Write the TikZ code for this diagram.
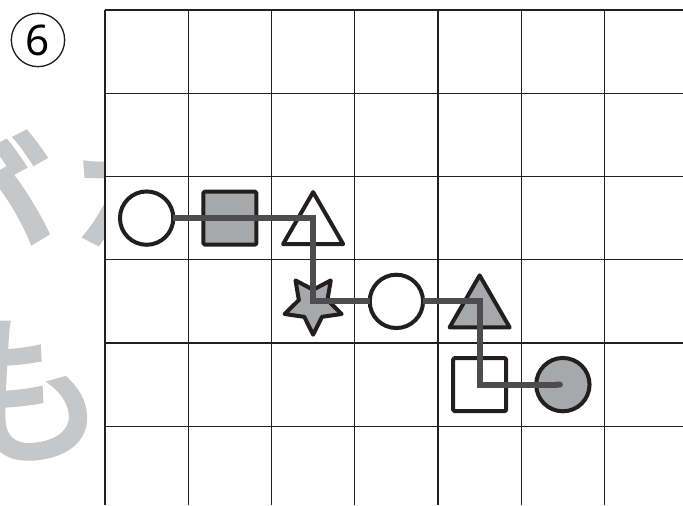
\documentclass[tikz,border=0pt]{standalone}
\usepackage{fontspec}
\setsansfont{Noto Sans}
\newfontfamily\jpfont[FakeBold=3]{Noto Sans CJK JP}
\usepackage{tikz}
\usetikzlibrary{shapes.geometric, arrows.meta, positioning, calc}
\definecolor{ink}{HTML}{231F20}
\definecolor{shade}{HTML}{A7A8AA}
\definecolor{route}{HTML}{4D4D4F}
\definecolor{wmgray}{HTML}{C6C7C9}

\begin{document}
\begin{tikzpicture}[
    x=0.03cm, y=-0.03cm,
    gridline/.style={draw=ink, line width=0.4mm},
    shapebase/.style={draw=ink, line width=1.2mm, inner sep=0pt, outer sep=0pt, line join=round},
    ring/.style={shapebase, circle, fill=white, minimum size=1.6cm},
    dot/.style={ring, fill=shade},
    box/.style={shapebase, rectangle, fill=white, minimum size=1.59cm, rounded corners=0.4mm},
    tri/.style={shapebase, regular polygon, regular polygon sides=3, fill=white, minimum size=2.08cm, yshift=-0.26cm},
    starmark/.style={shapebase, star, star points=5, star point ratio=0.5, fill=shade, minimum size=0.9cm, yshift=-0.1cm},
    routeline/.style={draw=route, line width=1.8mm},
    wm/.style={text=wmgray, font=\jpfont\fontsize{140}{140}\selectfont, inner sep=0pt},
    badge/.style={circle, draw=ink, line width=0.4mm, minimum size=1.6cm, inner sep=0pt, font=\sffamily\fontsize{36}{36}\selectfont}
]
    \useasboundingbox (0,0) rectangle (683,505);
    \clip (0,0) rectangle (683,505);

    \node[wm, rotate=5, scale=1.15] (wm1) at (-40,222) {が};
    \node[wm] (wm2) at (152,205) {な};
    \node[wm, rotate=4] (wm3) at (22,390) {も};

    \fill[white] (105,10) rectangle (683,505);
    \foreach \i in {0,...,7}
        \draw[gridline] ({105+83.25*\i},10) -- ({105+83.25*\i},505);
    \foreach \j in {0,...,6}
        \draw[gridline] (105,{10+83.25*\j}) -- (683,{10+83.25*\j});

    \foreach \c in {1,...,7}
        \foreach \r in {1,...,6}
            \coordinate (cell-\c-\r) at ({105+83.25*(\c-0.5)},{10+83.25*(\r-0.5)});

    \node[badge] (num) at (38,40) {6};

    \node[ring] (c1) at (cell-1-3) {};
    \node[box, fill=shade] (q1) at (cell-2-3) {};
    \node[tri] (t1) at (cell-3-3) {};
    \node[starmark] (s1) at (cell-3-4) {};
    \node[ring] (c2) at (cell-4-4) {};
    \node[tri, fill=shade] (t2) at (cell-5-4) {};
    \node[box] (q2) at (cell-5-5) {};
    \node[dot] (d1) at (cell-6-5) {};

    \draw[routeline] (c1) -- (cell-3-3) -- (cell-3-4) -- (c2);
    \draw[routeline, -{Round Cap[]}] (c2) -- (cell-5-4) -- (cell-5-5) -- (d1.center);
\end{tikzpicture}
\end{document}
